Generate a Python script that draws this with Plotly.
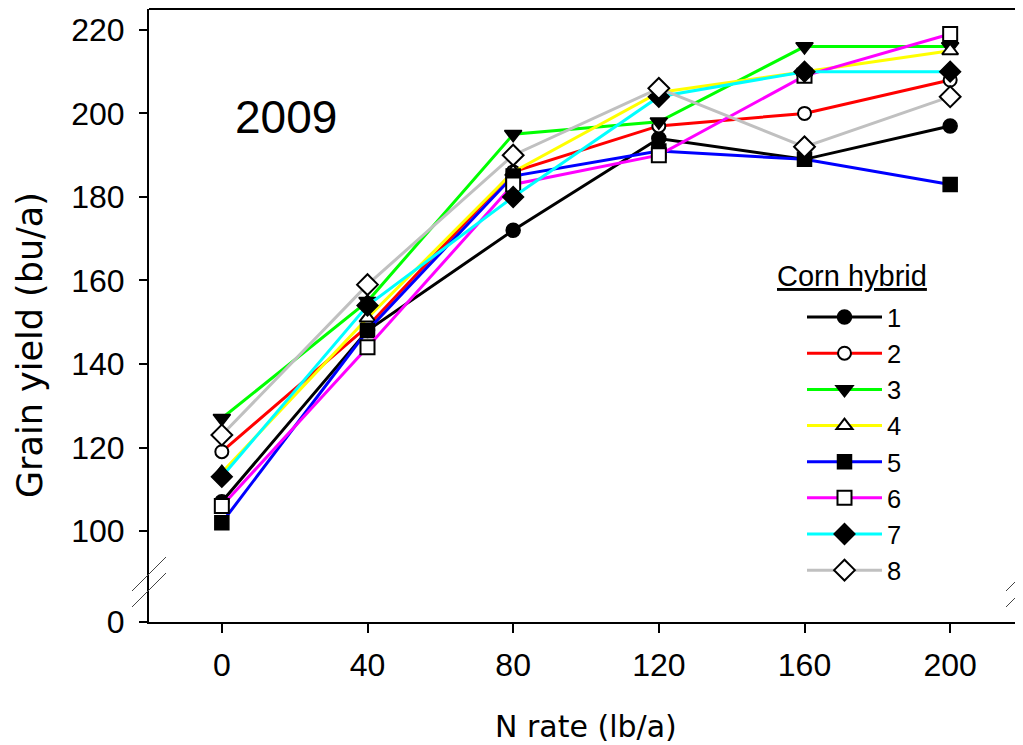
import plotly.graph_objects as go

# ---- data ----
n_rate = [0, 40, 80, 120, 160, 200]
hybrid_names = ["1", "2", "3", "4", "5", "6", "7", "8"]
h1 = [107, 148, 172, 194, 189, 197]
h2 = [119, 149, 186, 197, 200, 208]
h3 = [127, 155, 195, 198, 216, 216]
h4 = [114, 151, 186, 205, 210, 215]
h5 = [102, 148, 185, 191, 189, 183]
h6 = [106, 144, 183, 190, 209, 219]
h7 = [113, 154, 180, 204, 210, 210]
h8 = [123, 159, 190, 206, 192, 204]
series = [h1, h2, h3, h4, h5, h6, h7, h8]

x_ticks = [0, 40, 80, 120, 160, 200]
y_ticks_upper = [100, 120, 140, 160, 180, 200, 220]
y_ticks_lower = [0]

# ---- styles ----
line_colors = ["#000000", "#FF0000", "#00FF00", "#FFFF00",
               "#0000FF", "#FF00FF", "#00FFFF", "#C0C0C0"]
symbols = ["circle", "circle", "triangle-down", "triangle-up",
           "square", "square", "diamond", "diamond"]
filled = [True, False, True, False, True, False, True, False]
sizes = [14, 13, 15, 14, 14, 14, 16, 16]

# page has an 8px body margin; size the figure so the page matches 1023x745
OFF = 8
W, H = 1015, 737
ML, MR, MT, MB = 141, 0, 1, 123
PW = W - ML - MR
PH = H - MT - MB
PLOT_LEFT = OFF + ML
PLOT_BOTTOM = OFF + H - MB
BREAK_PX = 40  # height of lower (0) segment in px


def px_x(px):
    return (px - PLOT_LEFT) / PW


def px_y(py):
    return (PLOT_BOTTOM - py) / PH


fig = go.Figure()
for name, ys, col, sym, fil, sz in zip(hybrid_names, series, line_colors,
                                       symbols, filled, sizes):
    fig.add_trace(go.Scatter(
        x=n_rate, y=ys, name=name, mode="lines+markers",
        xaxis="x", yaxis="y2",
        line=dict(color=col, width=3),
        marker=dict(symbol=sym, size=sz,
                    color="#000000" if fil else "#FFFFFF",
                    line=dict(color="#000000", width=1.5 if fil else 2)),
    ))

# the lower (broken) segment holds no data inside its 0..10 range; a hidden
# copy of series 1 makes plotly build that subplot so its axis is drawn
fig.add_trace(go.Scatter(
    x=n_rate, y=h1, xaxis="x", yaxis="y", mode="lines",
    line=dict(color="rgba(0,0,0,0)", width=0),
    showlegend=False, hoverinfo="skip",
))

tick_font = dict(family="Liberation Sans, Arial, sans-serif", size=32, color="#000000")
lower_frac = BREAK_PX / PH

fig.update_layout(
    width=W, height=H,
    margin=dict(l=ML, r=MR, t=MT, b=MB, autoexpand=False),
    paper_bgcolor="white", plot_bgcolor="white",
    showlegend=True,
    xaxis=dict(
        domain=[0, 1], anchor="y", range=[-20, 220],
        tickvals=x_ticks, ticktext=[str(v) for v in x_ticks],
        ticks="outside", ticklen=9, tickwidth=2, tickcolor="#000000",
        showline=True, linecolor="#000000", linewidth=2,
        showgrid=False, zeroline=False, tickfont=tick_font,
        ticklabelstandoff=5, automargin=False,
    ),
    yaxis=dict(
        domain=[0, lower_frac], anchor="x", range=[-0.08, 9.6],
        tickvals=y_ticks_lower, ticktext=["0"],
        ticks="outside", ticklen=8, tickwidth=2, tickcolor="#000000",
        showline=True, linecolor="#000000", linewidth=2,
        showgrid=False, zeroline=False, tickfont=tick_font,
        ticklabelstandoff=8, automargin=False,
    ),
    yaxis2=dict(
        domain=[lower_frac, 1], anchor="x", range=[87.8, 225.0],
        tickvals=y_ticks_upper, ticktext=[str(v) for v in y_ticks_upper],
        ticks="outside", ticklen=8, tickwidth=2, tickcolor="#000000",
        showline=True, linecolor="#000000", linewidth=2,
        showgrid=False, zeroline=False, tickfont=tick_font,
        ticklabelstandoff=8, automargin=False,
    ),
    legend=dict(
        x=px_x(802), y=px_y(294), xanchor="left", yanchor="top",
        bgcolor="rgba(0,0,0,0)", borderwidth=0,
        font=dict(family="Liberation Sans, Arial, sans-serif", size=25.5, color="#000000"),
        tracegroupgap=0, itemwidth=75,
    ),
)

# top frame line
fig.add_shape(type="line", xref="paper", yref="paper", x0=0, x1=1, y0=1, y1=1,
              line=dict(color="#000000", width=2))

# axis break marks (left and right)
for cx in (0.0, 1.0):
    for cy in (574, 590):
        fig.add_shape(type="line", xref="paper", yref="paper",
                      x0=cx - 17 / PW, x1=cx + 17 / PW,
                      y0=px_y(cy + 17), y1=px_y(cy - 17),
                      line=dict(color="#444444", width=1))

# legend heading
fig.add_annotation(text="<u>Corn hybrid</u>", xref="paper", yref="paper",
                   x=px_x(852), y=px_y(276), showarrow=False,
                   xanchor="center", yanchor="middle",
                   font=dict(family="Liberation Sans, Arial, sans-serif", size=29, color="#000000"))

# year label
fig.add_annotation(text="2009", xref="paper", yref="paper",
                   x=px_x(286), y=px_y(117), showarrow=False,
                   xanchor="center", yanchor="middle",
                   font=dict(family="Liberation Sans, Arial, sans-serif", size=46, color="#000000"))

# axis titles
fig.add_annotation(text="N rate (lb/a)", xref="paper", yref="paper",
                   x=px_x(586), y=px_y(726), showarrow=False,
                   xanchor="center", yanchor="middle",
                   font=dict(family="DejaVu Sans, sans-serif", size=30, color="#000000"))
fig.add_annotation(text="Grain yield (bu/a)", xref="paper", yref="paper",
                   x=px_x(30), y=px_y(345), showarrow=False, textangle=-90,
                   xanchor="center", yanchor="middle",
                   font=dict(family="DejaVu Sans, sans-serif", size=35, color="#000000"))

fig.write_html("out.html")
